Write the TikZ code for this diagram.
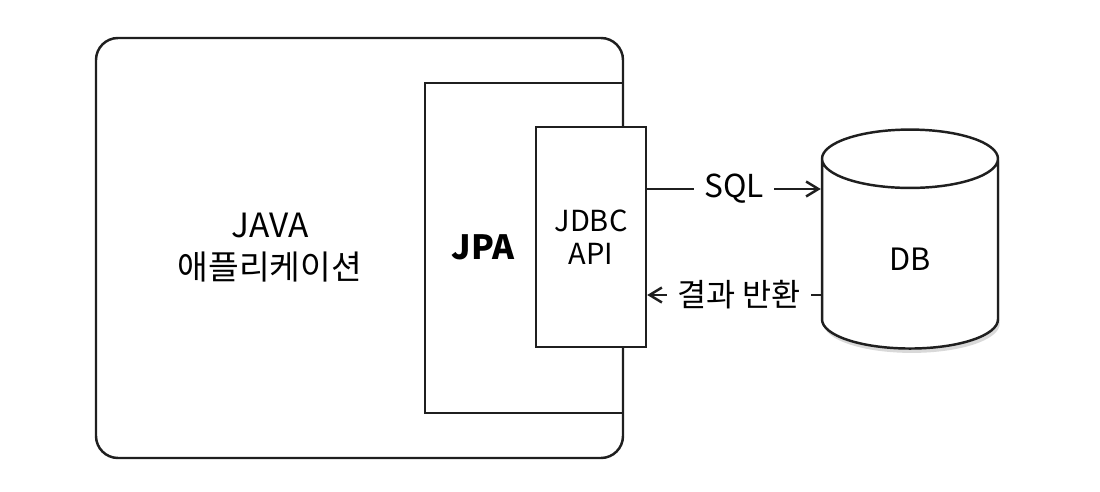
\documentclass[tikz,border=0pt]{standalone}
\usepackage{fontspec}
\setmainfont{Noto Sans CJK KR}
\usetikzlibrary{shapes.geometric,arrows.meta,shadows}

\begin{document}
\begin{tikzpicture}[x=0.02cm,y=-0.02cm,line width=1.4pt,draw=black!88,
		>={Straight Barb[length=7pt,width=8.5pt]},
		box/.style={draw,fill=white,inner sep=0pt},
		lbl/.style={fill=white,inner ysep=0pt,inner xsep=6pt,font=\fontsize{18}{20}\selectfont}]
	\useasboundingbox (0,0) rectangle (1100,492);
	\draw[rounded corners=0.44cm] (96,38) rectangle (623,458);
	\draw (425,83) rectangle (623,413);
	\node[align=center,font=\fontsize{19}{24}\selectfont] (app) at (270,248) {JAVA\\애플리케이션};
	\node[font=\bfseries\fontsize{19}{24}\selectfont] (jpa) at (483,247) {JPA};
	\node[box,align=center,minimum width=2.2cm,minimum height=4.4cm,font=\fontsize{16.5}{19}\selectfont] (jdbc) at (591,237) {JDBC\\API};
	\node[cylinder,shape border rotate=90,draw,fill=white,aspect=1.1,minimum width=3.52cm,minimum height=4.38cm,
		drop shadow={shadow xshift=1pt,shadow yshift=-2.5pt,opacity=0.3},font=\fontsize{17.5}{20}\selectfont] (db) at (910,259.5) {DB};
	\coordinate (sql) at (0,189);
	\coordinate (ret) at (0,295);
	\draw[->] (jdbc.east |- sql) -- node[lbl] {SQL} (db.west |- sql);
	\draw[->] (db.west |- ret) -- node[lbl,pos=0.47] {결과 반환} (jdbc.east |- ret);
\end{tikzpicture}
\end{document}
